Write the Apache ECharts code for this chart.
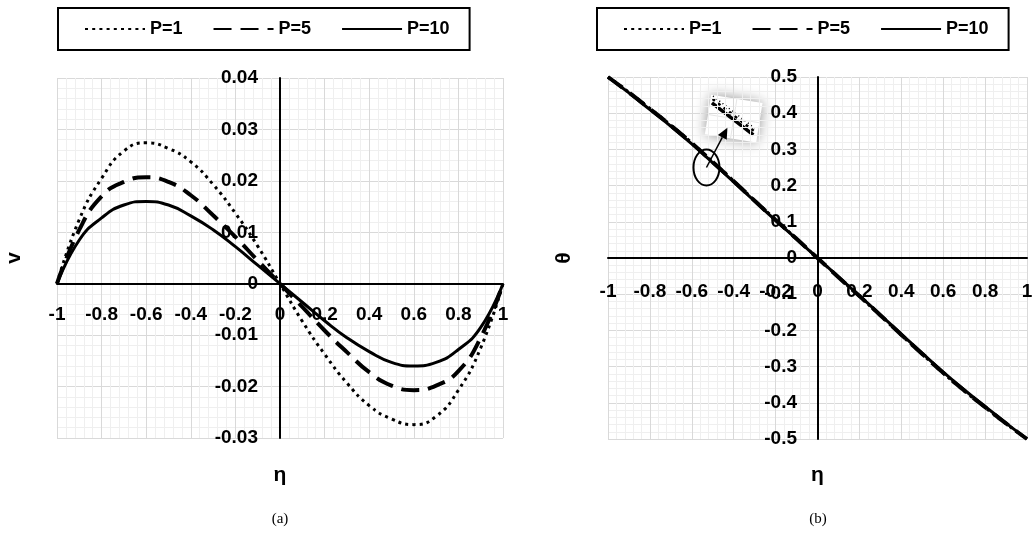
<!DOCTYPE html>
<html>
<head>
<meta charset="utf-8">
<script src="https://cdn.jsdelivr.net/npm/echarts@6/dist/echarts.min.js"></script>
<style>
  html, body { margin: 0; padding: 0; background: #fff; }
  #chart { width: 1033px; height: 557px; }
</style>
</head>
<body>
<div id="chart"></div>
<script>
// η positions (shared by both panels)
const eta = [-1, -0.9, -0.8, -0.7, -0.6, -0.5, -0.4, -0.3, -0.2, -0.1, 0,
             0.1, 0.2, 0.3, 0.4, 0.5, 0.6, 0.7, 0.8, 0.9, 1];

// panel (a): v
const vP1  = [0, 0.0125, 0.0205, 0.0258, 0.0274, 0.0263, 0.0237, 0.0193, 0.0137, 0.0073, 0,
              -0.0073, -0.0137, -0.0193, -0.0237, -0.0263, -0.0274, -0.0258, -0.0207, -0.0125, 0];
const vP5  = [0, 0.0105, 0.0170, 0.0198, 0.0207, 0.0198, 0.0172, 0.0133, 0.0091, 0.0045, 0,
              -0.0045, -0.0091, -0.0133, -0.0172, -0.0198, -0.0207, -0.0198, -0.0170, -0.0105, 0];
const vP10 = [0, 0.0085, 0.0128, 0.0153, 0.0160, 0.0153, 0.0132, 0.0105, 0.0072, 0.0036, 0,
              -0.0036, -0.0072, -0.0105, -0.0132, -0.0153, -0.0160, -0.0153, -0.0128, -0.0085, 0];

// panel (b): θ
const thP1  = [0.5, 0.458, 0.413, 0.367, 0.318, 0.266, 0.213, 0.159, 0.106, 0.053, 0,
               -0.053, -0.106, -0.159, -0.213, -0.266, -0.318, -0.367, -0.413, -0.458, -0.5];
const thP5  = [0.5, 0.457, 0.412, 0.366, 0.317, 0.265, 0.212, 0.158, 0.105, 0.053, 0,
               -0.053, -0.105, -0.158, -0.212, -0.265, -0.317, -0.366, -0.412, -0.457, -0.5];
const thP10 = [0.5, 0.456, 0.410, 0.364, 0.315, 0.263, 0.210, 0.157, 0.104, 0.052, 0,
               -0.052, -0.104, -0.157, -0.210, -0.263, -0.315, -0.364, -0.410, -0.456, -0.5];

const names = ['P=1', 'P=5', 'P=10'];

const font = 'Liberation Sans';
const labelStyle = { fontFamily: font, fontWeight: 'bold', fontSize: 19, color: '#000' };
const nameStyle = { fontFamily: font, fontWeight: 'bold', fontSize: 21, color: '#000' };

const styles = [
  { color: '#000', width: 3, type: [3, 4.2] },
  { color: '#000', width: 4, type: [18, 9] },
  { color: '#000', width: 3, type: 'solid' }
];

const pairs = (ys) => eta.map((x, i) => [x, ys[i]]);

// labels/names sit at the grid edge, so margins are negative to bring them to the zero lines
function xAxisFor(gridIndex, margin, nameGap) {
  return {
    type: 'value', gridIndex: gridIndex, min: -1, max: 1, interval: 0.2,
    name: 'η', nameLocation: 'middle', nameGap: nameGap, nameTextStyle: nameStyle,
    axisLine: { onZero: true, lineStyle: { color: '#000', width: 2 } },
    axisTick: { show: false },
    axisLabel: Object.assign({ margin: margin, showMinLabel: true, showMaxLabel: true,
      formatter: v => String(Number(v.toFixed(1))) }, labelStyle),
    splitLine: { lineStyle: { color: '#d9d9d9', width: 1 } },
    minorTick: { show: false, splitNumber: 5 },
    minorSplitLine: { show: true, lineStyle: { color: '#efefef', width: 1 } }
  };
}

function yAxisFor(gridIndex, min, max, interval, digits, name, margin, nameGap) {
  return {
    type: 'value', gridIndex: gridIndex, min: min, max: max, interval: interval,
    name: name, nameLocation: 'middle', nameGap: nameGap, nameTextStyle: nameStyle,
    axisLine: { onZero: true, lineStyle: { color: '#000', width: 2 } },
    axisTick: { show: false },
    axisLabel: Object.assign({ margin: margin, showMinLabel: true, showMaxLabel: true,
      formatter: v => String(Number(v.toFixed(digits))) }, labelStyle),
    splitLine: { lineStyle: { color: '#d9d9d9', width: 1 } },
    minorTick: { show: false, splitNumber: 5 },
    minorSplitLine: { show: true, lineStyle: { color: '#efefef', width: 1 } }
  };
}

function legendAt(left) {
  return {
    data: names, left: left, top: 8, orient: 'horizontal',
    itemWidth: 60, itemHeight: 14, itemGap: 30,
    padding: [12, 20, 12, 26],
    borderColor: '#000', borderWidth: 2,
    itemStyle: { opacity: 0 },
    textStyle: { fontFamily: font, fontWeight: 'bold', fontSize: 18, color: '#000' },
    selectedMode: false
  };
}

function seriesFor(gridIndex, sets) {
  return sets.map((ys, i) => ({
    name: names[i], type: 'line', xAxisIndex: gridIndex, yAxisIndex: gridIndex,
    data: pairs(ys), smooth: true, symbol: 'none', z: 3 + (2 - i),
    itemStyle: { color: '#000' },
    lineStyle: styles[i]
  }));
}

const chart = echarts.init(document.getElementById('chart'), null, { renderer: 'canvas' });

const option = {
  animation: false,
  backgroundColor: '#fff',
  legend: [legendAt(58), legendAt(597)],
  grid: [
    { left: 57, right: 530, top: 78, bottom: 119, outerBoundsMode: 'none' },
    { left: 608, right: 6, top: 77, bottom: 118, outerBoundsMode: 'none' }
  ],
  xAxis: [xAxisFor(0, -133, 27), xAxisFor(1, -157, 26)],
  yAxis: [
    yAxisFor(0, -0.03, 0.04, 0.01, 2, 'v', -201, 32),
    yAxisFor(1, -0.5, 0.5, 0.1, 1, 'θ', -189, 33)
  ],
  series: seriesFor(0, [vP1, vP5, vP10]).concat(seriesFor(1, [thP1, thP5, thP10])),
  graphic: [
    { type: 'text', x: 280, y: 512, style: { text: '(a)', font: '15px "Liberation Serif"', fill: '#000', align: 'center' } },
    { type: 'text', x: 818, y: 512, style: { text: '(b)', font: '15px "Liberation Serif"', fill: '#000', align: 'center' } }
  ]
};
chart.setOption(option);

// zoom-in annotation on panel (b), anchored to data coordinates
const c = chart.convertToPixel({ gridIndex: 1 }, [-0.53, 0.25]);
const tip = chart.convertToPixel({ gridIndex: 1 }, [-0.43, 0.36]);
const box = chart.convertToPixel({ gridIndex: 1 }, [-0.40, 0.385]);
const dx = tip[0] - c[0], dy = tip[1] - c[1];
const len = Math.sqrt(dx * dx + dy * dy);
const ux = dx / len, uy = dy / len;
const head = 11, half = 5;
const base = [tip[0] - ux * head, tip[1] - uy * head];

chart.setOption({
  graphic: option.graphic.concat([
    { type: 'ellipse', shape: { cx: c[0], cy: c[1], rx: 13, ry: 18 },
      style: { stroke: '#000', lineWidth: 2, fill: 'none' }, z: 20 },
    { type: 'line', shape: { x1: c[0], y1: c[1], x2: base[0], y2: base[1] },
      style: { stroke: '#000', lineWidth: 1.5 }, z: 20 },
    { type: 'polygon', shape: { points: [tip,
        [base[0] - uy * half, base[1] + ux * half],
        [base[0] + uy * half, base[1] - ux * half]] },
      style: { fill: '#000' }, z: 20 },
    { type: 'group', x: box[0], y: box[1], rotation: -0.16, z: 19, children: [
      { type: 'rect', shape: { x: -26, y: -20, width: 52, height: 40 },
        style: { fill: '#fff', shadowBlur: 14, shadowColor: 'rgba(0,0,0,0.45)' } },
      { type: 'line', shape: { x1: -26, y1: 0, x2: 26, y2: 0 }, style: { stroke: '#e6e6e6', lineWidth: 1 } },
      { type: 'line', shape: { x1: 0, y1: -20, x2: 0, y2: 20 }, style: { stroke: '#e6e6e6', lineWidth: 1 } },
      { type: 'line', shape: { x1: -24, y1: -12, x2: 22, y2: 13 }, style: { stroke: '#000', lineWidth: 3.5 } },
      { type: 'line', shape: { x1: -24, y1: -16, x2: 22, y2: 9 }, style: { stroke: '#000', lineWidth: 2.5, lineDash: [3, 4] } },
      { type: 'line', shape: { x1: -24, y1: -19, x2: 22, y2: 6 }, style: { stroke: '#000', lineWidth: 1.5, lineDash: [1, 3] } }
    ] }
  ])
});

window.addEventListener('resize', () => {
  chart.resize();
});
</script>
</body>
</html>
